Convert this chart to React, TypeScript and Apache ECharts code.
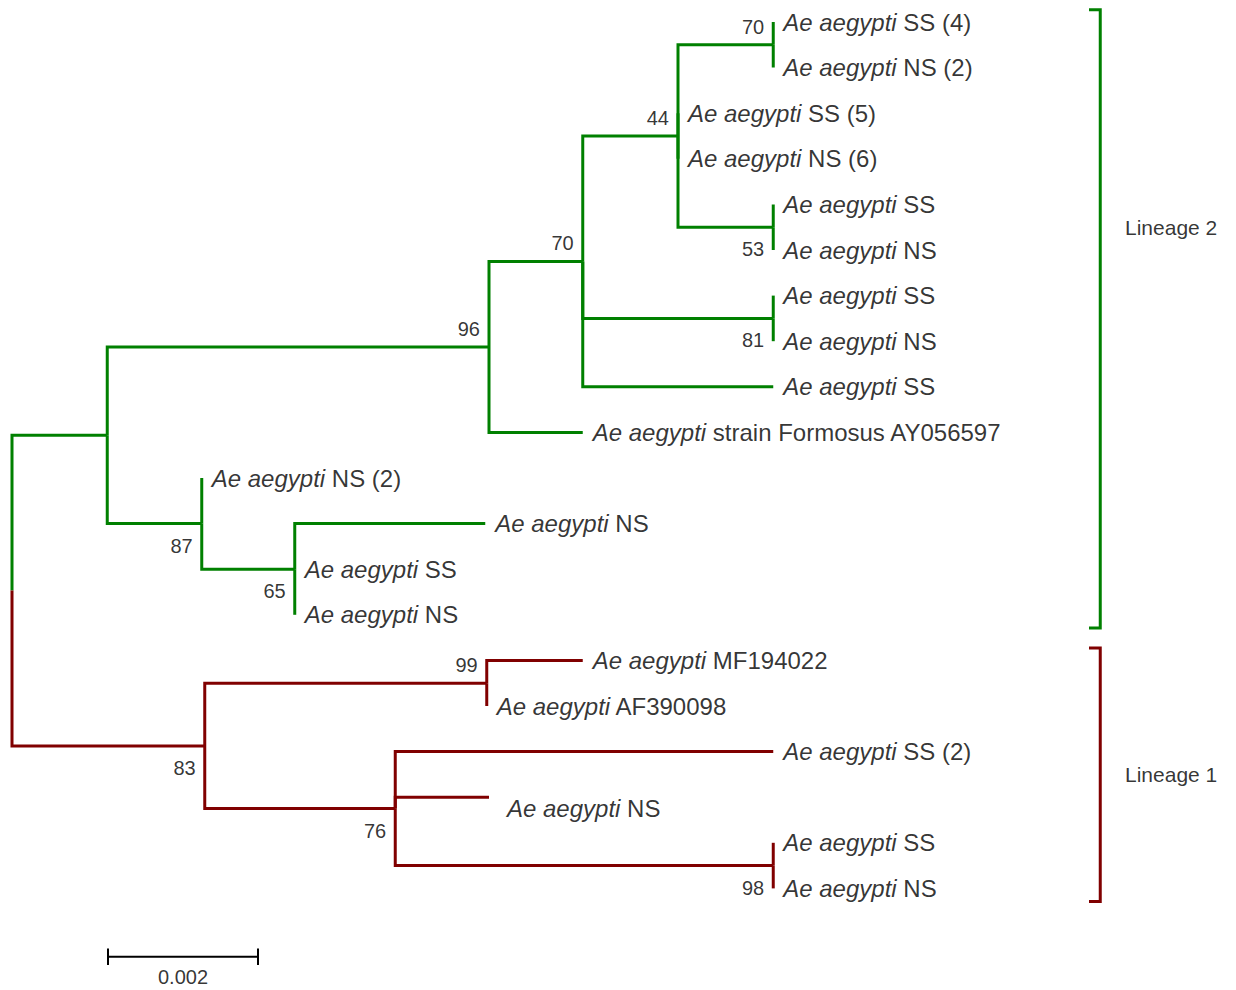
import React, { useEffect, useRef } from "react";
import * as echarts from "echarts";

// ---------- data ----------
const SPECIES = "Ae aegypti";

// tips in display order (top to bottom); label text after the italic species name
const tipNames = [
  "SS (4)", "NS (2)", "SS (5)", "NS (6)", "SS", "NS", "SS", "NS", "SS",
  "strain Formosus AY056597", "NS (2)", "NS", "SS", "NS",
  "MF194022", "AF390098", "SS (2)", "NS", "SS", "NS",
];
// parent internal node of each tip
const tipParent = [5, 5, 4, 4, 6, 6, 7, 7, 3, 2, 8, 9, 9, 9, 11, 11, 12, 12, 13, 13];
// cumulative distance from root (substitutions / site)
const tipDepth = [
  0.01015, 0.01015, 0.00888, 0.00888, 0.01015, 0.01015, 0.01015, 0.01015, 0.01015,
  0.00761, 0.00253, 0.00631, 0.00377, 0.00377,
  0.00761, 0.00633, 0.01015, 0.00636, 0.01015, 0.01015,
];

// internal nodes: 0 root
const nodeParent = [-1, 0, 1, 2, 3, 4, 4, 3, 1, 8, 0, 10, 10, 12];
const nodeDepth = [
  0, 0.00127, 0.00636, 0.00761, 0.00888, 0.01015, 0.01015, 0.01015,
  0.00253, 0.00377, 0.00257, 0.00633, 0.00511, 0.01015,
];
// lineage of each internal node (0 = Lineage 2 green, 1 = Lineage 1 red)
const nodeLineage = [-1, 0, 0, 0, 0, 0, 0, 0, 0, 0, 1, 1, 1, 1];

// bootstrap support
const bootNodes = [5, 4, 6, 3, 7, 2, 8, 9, 11, 10, 12, 13];
const bootValues = [70, 44, 53, 70, 81, 96, 87, 65, 99, 83, 76, 98];
const bootAbove = [true, true, false, true, false, true, false, false, true, false, false, false];

// lineage brackets
const lineageNames = ["Lineage 2", "Lineage 1"];
const lineageColors = ["#008000", "#800000"];
const lineageFirstTip = [0, 14];
const lineageLastTip = [13, 19];
const lineageLabelRow = [4.5, 16.5];

// scale bar
const scaleBarLength = 0.002;
const scaleBarLabel = "0.002";

// ---------- layout helpers ----------
const FONT = "'Liberation Sans', Arial, sans-serif";
const BRACKET_X = 0.01451;
const BRACKET_TICK_X = 0.01436;
const LINEAGE_LABEL_X = 0.01484;
const SCALE_X0 = 0.00128;
const SCALE_ROW = 20.5;

function buildTree() {
  const n = nodeParent.length;
  const minY = new Array(n).fill(Infinity);
  const maxY = new Array(n).fill(-Infinity);
  tipParent.forEach((p, i) => {
    minY[p] = Math.min(minY[p], i);
    maxY[p] = Math.max(maxY[p], i);
  });
  const nodeY = new Array(n).fill(0);
  for (let k = n - 1; k >= 0; k--) {
    nodeY[k] = (minY[k] + maxY[k]) / 2;
    const p = nodeParent[k];
    if (p >= 0) {
      minY[p] = Math.min(minY[p], nodeY[k]);
      maxY[p] = Math.max(maxY[p], nodeY[k]);
    }
  }
  const branches: any[] = [];
  for (let k = 1; k < n; k++) {
    const p = nodeParent[k];
    branches.push({
      coords: [[nodeDepth[p], nodeY[p]], [nodeDepth[p], nodeY[k]], [nodeDepth[k], nodeY[k]]],
      lineStyle: { color: lineageColors[nodeLineage[k]] },
    });
  }
  tipParent.forEach((p, i) => {
    branches.push({
      coords: [[nodeDepth[p], nodeY[p]], [nodeDepth[p], i], [tipDepth[i], i]],
      lineStyle: { color: lineageColors[nodeLineage[p]] },
    });
  });
  return { nodeY, branches };
}

export default function App() {
  const ref = useRef<HTMLDivElement>(null);
  useEffect(() => {
    document.body.style.margin = "0";
    if (!ref.current) return;
    const chart = echarts.init(ref.current, null, { renderer: "svg" });
    const { nodeY, branches } = buildTree();

    const brackets = lineageNames.map((_, i) => {
      const top = lineageFirstTip[i] - 0.27;
      const bot = lineageLastTip[i] + 0.29;
      return {
        coords: [[BRACKET_TICK_X, top], [BRACKET_X, top], [BRACKET_X, bot], [BRACKET_TICK_X, bot]],
        lineStyle: { color: lineageColors[i] },
      };
    });

    const tick = 0.18;
    const scaleBar = [
      { coords: [[SCALE_X0, SCALE_ROW], [SCALE_X0 + scaleBarLength, SCALE_ROW]] },
      { coords: [[SCALE_X0, SCALE_ROW - tick], [SCALE_X0, SCALE_ROW + tick]] },
      { coords: [[SCALE_X0 + scaleBarLength, SCALE_ROW - tick], [SCALE_X0 + scaleBarLength, SCALE_ROW + tick]] },
    ];

    const option: any = {
      animation: false,
      backgroundColor: "#ffffff",
      grid: { left: 12, top: 22 - 0.4 * 45.6, width: 1200, height: 21.4 * 45.6 },
      xAxis: { type: "value", min: 0, max: 0.016, show: false },
      yAxis: { type: "value", min: -0.4, max: 21, inverse: true, show: false },
      series: [
        {
          type: "lines",
          coordinateSystem: "cartesian2d",
          polyline: true,
          silent: true,
          lineStyle: { width: 3, opacity: 1, join: "miter", cap: "butt" },
          data: branches,
        },
        {
          type: "lines",
          coordinateSystem: "cartesian2d",
          polyline: true,
          silent: true,
          lineStyle: { width: 3, opacity: 1, join: "miter" },
          data: brackets,
        },
        {
          type: "lines",
          coordinateSystem: "cartesian2d",
          polyline: true,
          silent: true,
          lineStyle: { width: 2, opacity: 1, color: "#000" },
          data: scaleBar,
        },
        {
          type: "scatter",
          symbolSize: 0,
          silent: true,
          label: {
            show: true,
            position: "right",
            distance: 10,
            color: "#000",
            fontSize: 24,
            fontFamily: FONT,
            formatter: (p: any) => `{i|${SPECIES}} ${tipNames[p.dataIndex]}`,
            rich: { i: { fontStyle: "italic", fontSize: 24, fontFamily: FONT, color: "#000" } },
          },
          data: tipNames.map((_, i) =>
            i === 17
              ? { value: [tipDepth[i], i], label: { offset: [8, 11] } }
              : { value: [tipDepth[i], i] }
          ),
        },
        {
          type: "scatter",
          symbolSize: 0,
          silent: true,
          label: {
            show: true,
            position: "left",
            distance: 9,
            color: "#000",
            fontSize: 20,
            fontFamily: FONT,
            formatter: (p: any) => String(bootValues[p.dataIndex]),
          },
          data: bootNodes.map((k, i) => ({
            value: [nodeDepth[k], nodeY[k]],
            label: { offset: [0, bootAbove[i] ? -18 : 22] },
          })),
        },
        {
          type: "scatter",
          symbolSize: 0,
          silent: true,
          label: {
            show: true,
            position: "right",
            distance: 0,
            color: "#000",
            fontSize: 21,
            fontFamily: FONT,
            formatter: (p: any) => lineageNames[p.dataIndex],
          },
          data: lineageNames.map((_, i) => ({ value: [LINEAGE_LABEL_X, lineageLabelRow[i]] })),
        },
        {
          type: "scatter",
          symbolSize: 0,
          silent: true,
          label: {
            show: true,
            position: "bottom",
            distance: 10,
            color: "#000",
            fontSize: 20,
            fontFamily: FONT,
            formatter: () => scaleBarLabel,
          },
          data: [{ value: [SCALE_X0 + scaleBarLength / 2, SCALE_ROW] }],
        },
      ],
    };
    chart.setOption(option);
    return () => chart.dispose();
  }, []);
  return <div ref={ref} style={{ width: 1236, height: 990 }} />;
}
